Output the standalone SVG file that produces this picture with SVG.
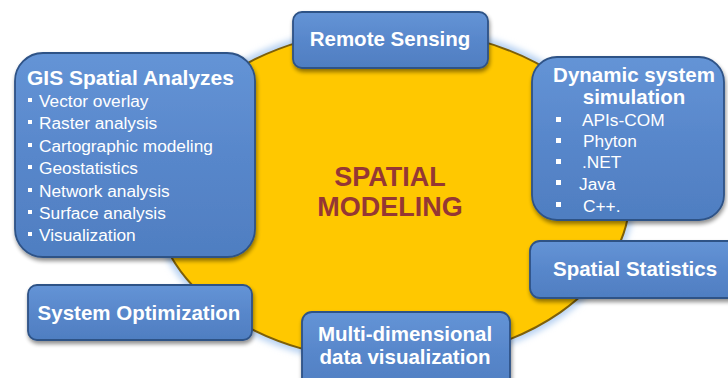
<svg xmlns="http://www.w3.org/2000/svg" width="728" height="378" viewBox="0 0 728 378">
<defs>
<linearGradient id="boxg" x1="0" y1="0" x2="0" y2="1">
<stop offset="0" stop-color="#6494d6"/>
<stop offset="0.5" stop-color="#5887cb"/>
<stop offset="1" stop-color="#4f7ec1"/>
</linearGradient>
<filter id="sh" x="-10%" y="-10%" width="125%" height="130%">
<feGaussianBlur in="SourceAlpha" stdDeviation="2"/>
<feOffset dx="1" dy="3" result="b"/>
<feComponentTransfer><feFuncA type="linear" slope="0.45"/></feComponentTransfer>
<feMerge><feMergeNode/><feMergeNode in="SourceGraphic"/></feMerge>
</filter>
<filter id="glow" x="-10%" y="-10%" width="120%" height="120%">
<feGaussianBlur stdDeviation="3"/>
</filter>
<style>
.box{fill:url(#boxg);stroke:#2e5286;stroke-width:1.8;filter:url(#sh)}
.t{font-family:"Liberation Sans",Arial,sans-serif;fill:#ffffff;font-weight:bold;font-size:20.5px}
.b{font-family:"Liberation Sans",Arial,sans-serif;fill:#ffffff;font-size:17.3px}
.c{font-family:"Liberation Sans",Arial,sans-serif;fill:#953734;font-weight:bold;font-size:27px}
.sq{fill:#ffffff}
</style>
</defs>
<rect width="728" height="378" fill="#ffffff"/>
<g id="ellipse">
<ellipse cx="392" cy="195" rx="243" ry="171" fill="#b8d2f2" filter="url(#glow)"/>
<ellipse cx="392" cy="195" rx="238" ry="166" fill="#ffc800" stroke="#7d5f08" stroke-width="2"/>
<text class="c" x="390" y="186" text-anchor="middle">SPATIAL</text>
<text class="c" x="390" y="216" text-anchor="middle">MODELING</text>
</g>
<g id="connectors"></g>
<g id="remote-sensing">
<rect class="box" x="293" y="12" width="195" height="56" rx="9"/>
<text class="t" x="390" y="46" text-anchor="middle">Remote Sensing</text>
</g>
<g id="gis">
<rect class="box" x="15" y="53" width="240" height="204" rx="28"/>
<text class="t" x="27" y="85" style="font-size:21px">GIS Spatial Analyzes</text>
<rect class="sq" x="28" y="98" width="4" height="4"/>
<text class="b" x="39" y="107">Vector overlay</text>
<rect class="sq" x="28" y="120" width="4" height="4"/>
<text class="b" x="39" y="129">Raster analysis</text>
<rect class="sq" x="28" y="143" width="4" height="4"/>
<text class="b" x="39" y="152">Cartographic modeling</text>
<rect class="sq" x="28" y="165" width="4" height="4"/>
<text class="b" x="39" y="174">Geostatistics</text>
<rect class="sq" x="28" y="188" width="4" height="4"/>
<text class="b" x="39" y="197">Network analysis</text>
<rect class="sq" x="28" y="210" width="4" height="4"/>
<text class="b" x="39" y="219">Surface analysis</text>
<rect class="sq" x="28" y="232" width="4" height="4"/>
<text class="b" x="39" y="241">Visualization</text>
</g>
<g id="dynamic">
<rect class="box" x="532" y="57" width="192" height="163" rx="25"/>
<text class="t" x="634" y="82" text-anchor="middle">Dynamic system</text>
<text class="t" x="634" y="104" text-anchor="middle">simulation</text>
<rect class="sq" x="556" y="117" width="5" height="5"/>
<text class="b" x="582" y="126">APIs-COM</text>
<rect class="sq" x="556" y="138" width="5" height="5"/>
<text class="b" x="583" y="147">Phyton</text>
<rect class="sq" x="556" y="159" width="5" height="5"/>
<text class="b" x="582" y="168">.NET</text>
<rect class="sq" x="556" y="180" width="5" height="5"/>
<text class="b" x="579" y="190">Java</text>
<rect class="sq" x="556" y="202" width="5" height="5"/>
<text class="b" x="583" y="212">C++.</text>
</g>
<g id="system-optimization">
<rect class="box" x="28" y="285" width="224" height="55" rx="9"/>
<text class="t" x="139" y="320" text-anchor="middle">System Optimization</text>
</g>
<g id="multi-dimensional">
<rect class="box" x="302" y="312" width="208" height="80" rx="10"/>
<text class="t" x="405" y="341" text-anchor="middle">Multi-dimensional</text>
<text class="t" x="405" y="364" text-anchor="middle">data visualization</text>
</g>
<g id="spatial-statistics">
<rect class="box" x="530" y="241" width="215" height="57" rx="10"/>
<text class="t" x="553" y="276">Spatial Statistics</text>
</g>
</svg>
